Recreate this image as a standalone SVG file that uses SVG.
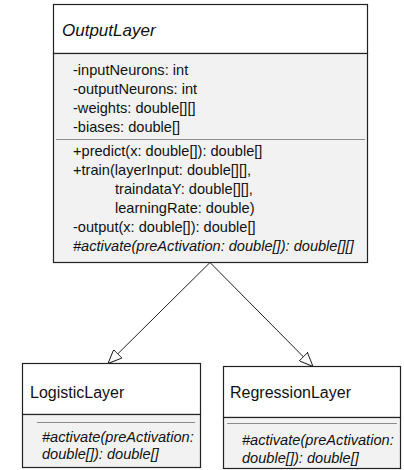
<svg xmlns="http://www.w3.org/2000/svg" width="404" height="470" viewBox="0 0 404 470">
<style>
.box{fill:#ffffff;stroke:#222;stroke-width:1.2}
.body{fill:#f2f2f2;stroke:#222;stroke-width:1.2}
.sep{stroke:#8c8c8c;stroke-width:1;fill:none}
.t{font-family:"Liberation Sans",Arial,sans-serif;font-size:14.6px;fill:#111}
.i{font-style:italic}
.h{font-size:17px}
.h2{font-size:16px}
.conn{stroke:#222;stroke-width:1;fill:none}
</style>
<defs>
<marker id="gen" viewBox="0 0 14 12" refX="14" refY="6" markerWidth="14" markerHeight="12" markerUnits="userSpaceOnUse" orient="auto">
<path d="M0,0 L14,6 L0,12 Z" fill="#fff" stroke="#222" stroke-width="1"/>
</marker>
</defs>
<g id="OutputLayer">
<rect class="box" x="53.5" y="4.5" width="314" height="49"/>
<rect class="body" x="53.5" y="53.5" width="314" height="209"/>
<text class="t i h" x="62" y="36">OutputLayer</text>
<text class="t" x="73" y="75">-inputNeurons: int</text>
<text class="t" x="73" y="94">-outputNeurons: int</text>
<text class="t" x="73" y="113">-weights: double[][]</text>
<text class="t" x="73" y="132">-biases: double[]</text>
<line class="sep" x1="56" y1="139.5" x2="365" y2="139.5"/>
<text class="t" x="73" y="156">+predict(x: double[]): double[]</text>
<text class="t" x="73" y="175">+train(layerInput: double[][],</text>
<text class="t" x="115" y="194">traindataY: double[][],</text>
<text class="t" x="115" y="213">learningRate: double)</text>
<text class="t" x="73" y="232">-output(x: double[]): double[]</text>
<text class="t i" x="73" y="251">#activate(preActivation: double[]): double[][]</text>
</g>
<g id="LogisticLayer">
<rect class="box" x="22.5" y="363.5" width="178" height="51"/>
<rect class="body" x="22.5" y="414.5" width="178" height="53"/>
<text class="t h2" x="30" y="398">LogisticLayer</text>
<line class="sep" x1="37" y1="422.5" x2="195" y2="422.5"/>
<text class="t i" x="42" y="442">#activate(preActivation:</text>
<text class="t i" x="42" y="459">double[]): double[]</text>
</g>
<g id="RegressionLayer">
<rect class="box" x="223.5" y="366.5" width="177" height="51"/>
<rect class="body" x="223.5" y="417.5" width="177" height="51"/>
<text class="t h2" x="230" y="398">RegressionLayer</text>
<line class="sep" x1="227" y1="423.5" x2="397" y2="423.5"/>
<text class="t i" x="242" y="445">#activate(preActivation:</text>
<text class="t i" x="242" y="463">double[]): double[]</text>
</g>
<g id="connectors">
<line class="conn" x1="210" y1="262.5" x2="108" y2="363.5" marker-end="url(#gen)"/>
<line class="conn" x1="210" y1="262.5" x2="313" y2="366.5" marker-end="url(#gen)"/>
</g>
</svg>
